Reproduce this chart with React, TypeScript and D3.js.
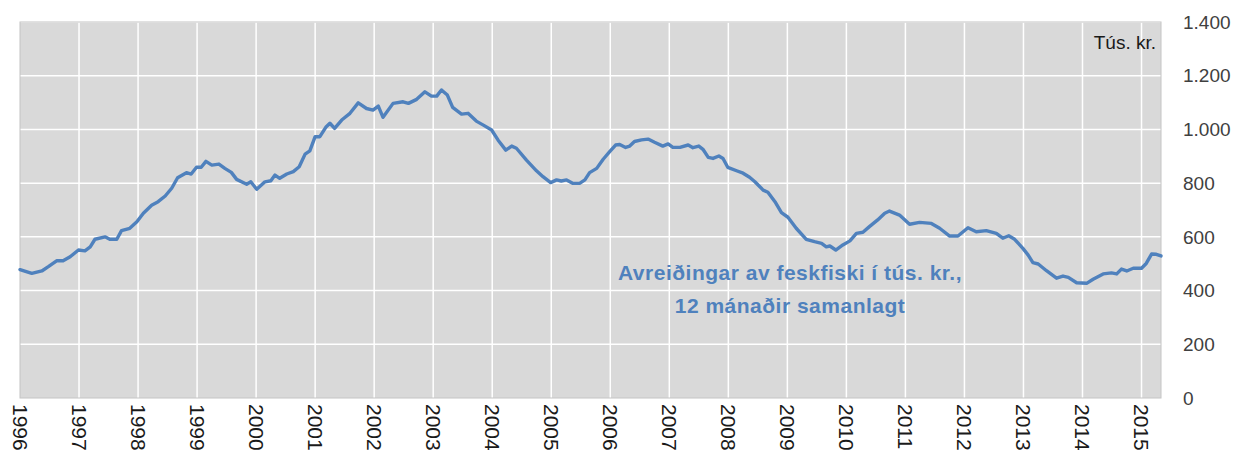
import React, { useEffect, useRef } from "react";
import * as d3 from "d3";

// time as decimal years
const periods = [
  1996.0, 1996.2, 1996.37, 1996.48, 1996.62, 1996.73, 1996.85, 1996.99, 1997.1, 1997.19,
  1997.27, 1997.44, 1997.52, 1997.64, 1997.72, 1997.86, 1997.98, 1998.09, 1998.23, 1998.34,
  1998.46, 1998.57, 1998.67, 1998.82, 1998.9, 1998.99, 1999.07, 1999.15, 1999.25, 1999.37,
  1999.47, 1999.58, 1999.67, 1999.84, 1999.91, 2000.01, 2000.15, 2000.25, 2000.32, 2000.4,
  2000.52, 2000.63, 2000.73, 2000.83, 2000.91, 2001.0, 2001.08, 2001.18, 2001.25, 2001.33,
  2001.45, 2001.59, 2001.73, 2001.87, 2001.98, 2002.07, 2002.15, 2002.32, 2002.49, 2002.58,
  2002.72, 2002.86, 2002.97, 2003.06, 2003.14, 2003.24, 2003.33, 2003.48, 2003.59, 2003.73,
  2003.85, 2003.99, 2004.1, 2004.23, 2004.33, 2004.41, 2004.58, 2004.75, 2004.86, 2004.99,
  2005.09, 2005.17, 2005.26, 2005.37, 2005.48, 2005.57, 2005.65, 2005.77, 2005.88, 2005.99,
  2006.09, 2006.16, 2006.26, 2006.33, 2006.41, 2006.53, 2006.64, 2006.75, 2006.89, 2006.98,
  2007.06, 2007.18, 2007.32, 2007.4, 2007.5, 2007.57, 2007.66, 2007.74, 2007.84, 2007.91,
  2007.99, 2008.14, 2008.25, 2008.36, 2008.45, 2008.59, 2008.67, 2008.79, 2008.9, 2009.01,
  2009.15, 2009.32, 2009.46, 2009.58, 2009.66, 2009.72, 2009.82, 2009.94, 2010.06, 2010.17,
  2010.28, 2010.39, 2010.53, 2010.65, 2010.73, 2010.9, 2011.07, 2011.24, 2011.44, 2011.58,
  2011.75, 2011.89, 2012.06, 2012.2, 2012.37, 2012.54, 2012.65, 2012.75, 2012.85, 2012.99,
  2013.08, 2013.16, 2013.25, 2013.39, 2013.56, 2013.67, 2013.76, 2013.9, 2014.07, 2014.18,
  2014.35, 2014.49, 2014.58, 2014.66, 2014.75, 2014.86, 2015.0, 2015.08, 2015.17, 2015.25,
  2015.33,
];

// Avreiðingar av feskfiski, tús. kr., 12 mánaðir samanlagt
const values = [
  478, 464, 473, 489, 511, 511, 526, 551, 548, 563,
  591, 600, 591, 591, 623, 632, 656, 688, 718, 731,
  752, 781, 820, 839, 834, 859, 859, 881, 867, 871,
  855, 840, 814, 796, 805, 777, 805, 809, 830, 818,
  834, 843, 861, 908, 920, 973, 973, 1008, 1023, 1004,
  1035, 1060, 1099, 1078, 1072, 1087, 1045, 1097, 1103, 1097,
  1112, 1140, 1124, 1124, 1147, 1128, 1082, 1057, 1060, 1031,
  1016, 998, 960, 923, 938, 930, 886, 846, 824, 802,
  812, 808, 812, 799, 799, 812, 839, 855, 889, 917,
  942, 944, 933, 938, 955, 961, 964, 952, 938, 946,
  933, 933, 942, 932, 938, 926, 896, 892, 901, 892,
  859, 846, 837, 822, 805, 774, 766, 731, 690, 673,
  632, 591, 582, 576, 563, 566, 551, 570, 585, 613,
  617, 638, 663, 688, 696, 681, 647, 654, 650, 632,
  603, 603, 634, 619, 623, 613, 595, 604, 591, 557,
  532, 504, 499, 474, 446, 454, 449, 429, 427, 442,
  462, 466, 462, 480, 473, 483, 483, 501, 536, 535,
  529,
];

const years = d3.range(1996, 2016);
const yTicks = [0, 200, 400, 600, 800, 1000, 1200, 1400];
const unitLabel = "Tús. kr.";
const noteLines = ["Avreiðingar av feskfiski í tús. kr.,", "12 mánaðir samanlagt"];

const W = 1246;
const H = 460;
const FONT = "Liberation Sans, Arial, sans-serif";

export default function App() {
  const ref = useRef<SVGSVGElement>(null);

  useEffect(() => {
    const svg = d3.select(ref.current);
    svg.selectAll("*").remove();

    const left = 20, right = 1161, top = 22, bottom = 398;
    const x = d3.scaleLinear().domain([1996, 2015.33]).range([left, right]);
    const y = d3.scaleLinear().domain([0, 1400]).range([bottom, top]);
    const fmt = d3.formatLocale({ decimal: ",", thousands: ".", grouping: [3], currency: ["", ""] }).format(",d");

    // plot area
    svg.append("rect")
      .attr("x", left).attr("y", top)
      .attr("width", right - left).attr("height", bottom - top)
      .attr("fill", "#d9d9d9");

    // gridlines
    svg.append("g").selectAll("line").data(yTicks.slice(1)).join("line")
      .attr("x1", left).attr("x2", right)
      .attr("y1", d => y(d)).attr("y2", d => y(d))
      .attr("stroke", "#fff").attr("stroke-width", 1.5);
    svg.append("g").selectAll("line").data(years.slice(1)).join("line")
      .attr("x1", d => x(d)).attr("x2", d => x(d))
      .attr("y1", top).attr("y2", bottom)
      .attr("stroke", "#fff").attr("stroke-width", 1.5);

    svg.append("rect")
      .attr("x", left).attr("y", top)
      .attr("width", right - left).attr("height", bottom - top)
      .attr("fill", "none").attr("stroke", "#c4c4c4").attr("stroke-width", 1);

    // y labels on the right
    svg.append("g").selectAll("text").data(yTicks).join("text")
      .attr("x", 1183).attr("y", d => y(d))
      .attr("dy", "0.35em")
      .attr("font-family", FONT)
      .attr("font-size", 19)
      .attr("fill", "#404040")
      .text(d => fmt(d));

    // x labels, rotated
    svg.append("g").selectAll("text").data(years).join("text")
      .attr("transform", d => `translate(${x(d)},404) rotate(90)`)
      .attr("dy", "0.35em")
      .attr("font-family", FONT)
      .attr("font-size", 21)
      .attr("fill", "#1a1a1a")
      .text(d => d);

    // unit label
    svg.append("text")
      .attr("x", 1156).attr("y", 49)
      .attr("text-anchor", "end")
      .attr("font-family", FONT)
      .attr("font-size", 19)
      .attr("fill", "#1a1a1a")
      .text(unitLabel);

    // the line
    const pts = periods.map((p, i) => [p, values[i]] as [number, number]);
    const line = d3.line<[number, number]>().x(d => x(d[0])).y(d => y(d[1]));
    svg.append("path")
      .datum(pts)
      .attr("d", line)
      .attr("fill", "none")
      .attr("stroke", "#4f81bd")
      .attr("stroke-width", 3.4)
      .attr("stroke-linejoin", "round")
      .attr("stroke-linecap", "round");

    // note
    svg.append("g").selectAll("text").data(noteLines).join("text")
      .attr("x", 790).attr("y", (d, i) => 280 + i * 33)
      .attr("text-anchor", "middle")
      .attr("font-family", FONT)
      .attr("font-weight", "bold")
      .attr("font-size", 21)
      .attr("letter-spacing", 0.5)
      .attr("fill", "#4f81bd")
      .text(d => d);
  }, []);

  return (
    <svg ref={ref} width={W} height={H}
      style={{ position: "absolute", left: 0, top: 0, background: "#fff", display: "block" }} />
  );
}
